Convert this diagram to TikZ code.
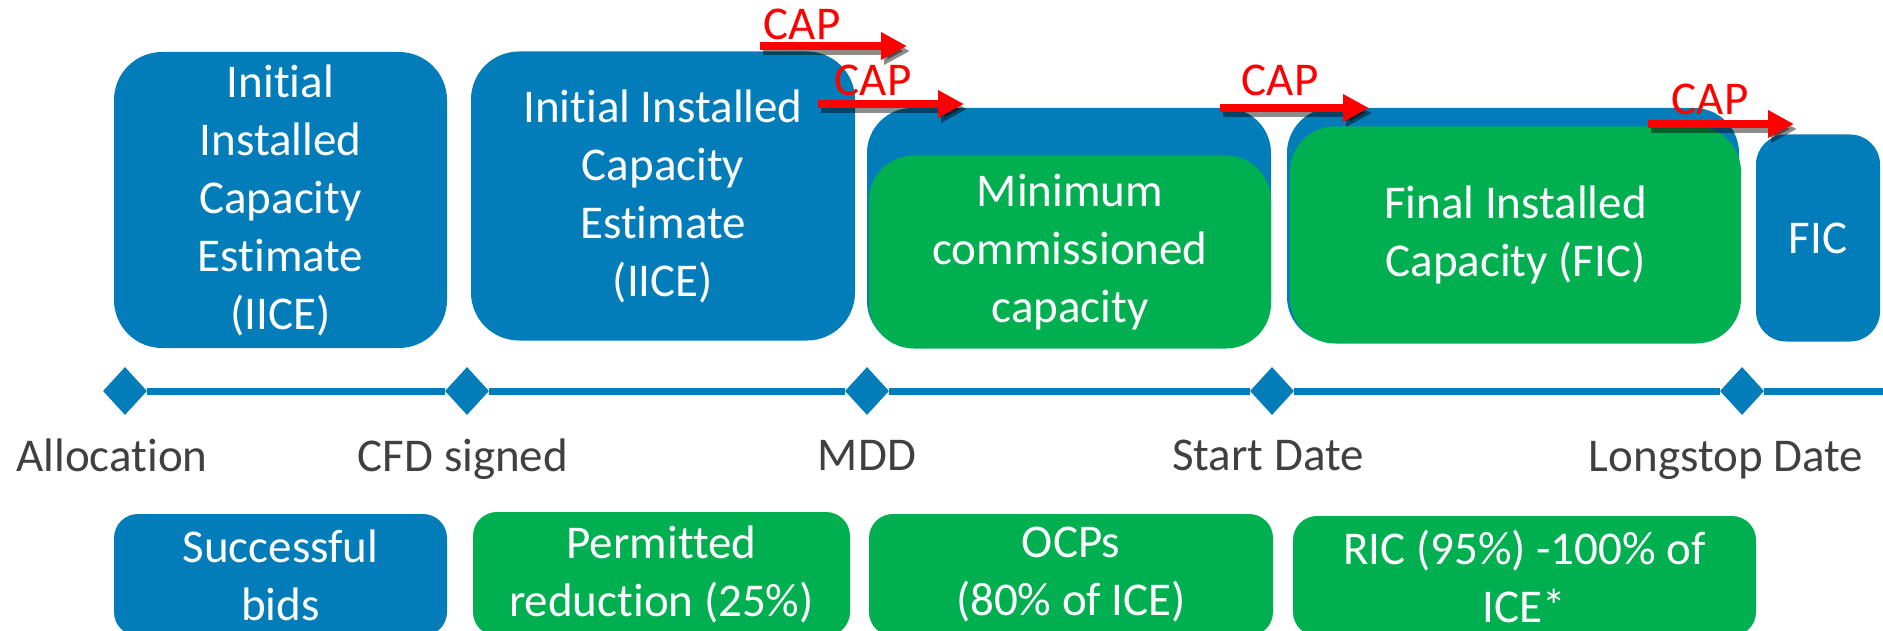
\documentclass[tikz,border=0pt]{standalone}
\usepackage{fontspec}
\setmainfont{Carlito}[Ligatures=NoCommon]
\usetikzlibrary{shapes.geometric,arrows.meta}
\definecolor{cblue}{RGB}{2,125,185}
\definecolor{cgreen}{RGB}{0,176,80}
\definecolor{cgray}{RGB}{64,64,64}
\definecolor{cred}{RGB}{255,0,0}
\newcommand\diagfont{\fontsize{47}{58}\selectfont}
\begin{document}
\begin{tikzpicture}[x=1pt,y=-1pt,
  boxbase/.style={inner sep=0pt, align=center, text=white, font=\diagfont},
  bluebox/.style={boxbase, fill=cblue, rounded corners=#1},
  greenbox/.style={boxbase, fill=cgreen, rounded corners=#1},
  tick/.style={diamond, fill=cblue, minimum width=44pt, minimum height=48pt, inner sep=0pt},
  lbl/.style={anchor=base, text=cgray, font=\diagfont, inner sep=0pt},
  timeline/.style={cblue, line width=7pt},
  caparrow/.style={cred, line width=8pt, -{Triangle[length=26pt,width=26pt]}},
  capshadow/.style={black, opacity=0.45, line width=8pt, -{Triangle[length=26pt,width=26pt]}},
  captext/.style={anchor=base, text=cred, font=\diagfont, inner sep=0pt}
]
\useasboundingbox (0,0) rectangle (1883,631);
\clip (0,0) rectangle (1883,631);

% top boxes
\node[bluebox=48pt, minimum width=333pt, minimum height=296pt] (t1) at (280.5,200)
  {Initial\\Installed\\Capacity\\Estimate\\(IICE)};
\node[bluebox=48pt, minimum width=384pt, minimum height=289pt] (t2) at (663,196)
  {Initial Installed\\Capacity\\Estimate\\(IICE)};
\node[bluebox=45pt, minimum width=404pt, minimum height=238pt] (t3b) at (1069,227) {};
\node[greenbox=45pt, minimum width=402pt, minimum height=193pt] (t3) at (1070,252)
  {Minimum\\commissioned\\capacity};
\node[bluebox=45pt, minimum width=452pt, minimum height=234pt] (t4b) at (1513,225) {};
\node[greenbox=45pt, minimum width=451pt, minimum height=217pt] (t4) at (1515.5,235)
  {Final Installed\\Capacity (FIC)};
\node[bluebox=30pt, minimum width=124pt, minimum height=207pt] (t5) at (1818,238) {FIC};

% timeline
\node[tick] (d1) at (125,391) {};
\node[tick] (d2) at (467,391) {};
\node[tick] (d3) at (867,391) {};
\node[tick] (d4) at (1272,391) {};
\node[tick] (d5) at (1742,391) {};
\coordinate (tend) at (1890,391);
\draw[timeline] (d1) -- (d2);
\draw[timeline] (d2) -- (d3);
\draw[timeline] (d3) -- (d4);
\draw[timeline] (d4) -- (d5);
\draw[timeline] (d5) -- (tend);

% labels
\node[lbl] (l1) at (112,471) {Allocation};
\node[lbl] (l2) at (463,471) {CFD signed};
\node[lbl] (l3) at (867,470) {MDD};
\node[lbl] (l4) at (1268,470) {Start Date};
\node[lbl] (l5) at (1726,471) {Longstop Date};

% bottom boxes
\node[bluebox=24pt, minimum width=333pt, minimum height=122pt] (b1) at (280.5,575)
  {Successful\\bids};
\node[greenbox=24pt, minimum width=377pt, minimum height=124pt] (b2) at (661.5,574)
  {Permitted\\reduction (25\%)};
\node[greenbox=24pt, minimum width=404pt, minimum height=122pt] (b3) at (1071,575)
  {OCPs\\(80\% of ICE)};
\node[greenbox=24pt, minimum width=463pt, minimum height=120pt] (b4) at (1524.5,576)
  {RIC (95\%) -100\% of\\ICE*};

% CAP arrows
\coordinate (a1s) at (760,46);  \coordinate (a1e) at (907,46);
\coordinate (a2s) at (818,104); \coordinate (a2e) at (964,104);
\coordinate (a3s) at (1220,108); \coordinate (a3e) at (1369,108);
\coordinate (a4s) at (1648,124); \coordinate (a4e) at (1794,124);
\foreach \s/\e in {a1s/a1e,a2s/a2e,a3s/a3e,a4s/a4e}{
  \draw[capshadow] ([shift={(3,5)}]\s) -- ([shift={(3,5)}]\e);
  \draw[caparrow] (\s) -- (\e);
}
\node[captext] (c1) at (802,40) {CAP};
\node[captext] (c2) at (873,96) {CAP};
\node[captext] (c3) at (1280,96) {CAP};
\node[captext] (c4) at (1710,115) {CAP};
\end{tikzpicture}
\end{document}
